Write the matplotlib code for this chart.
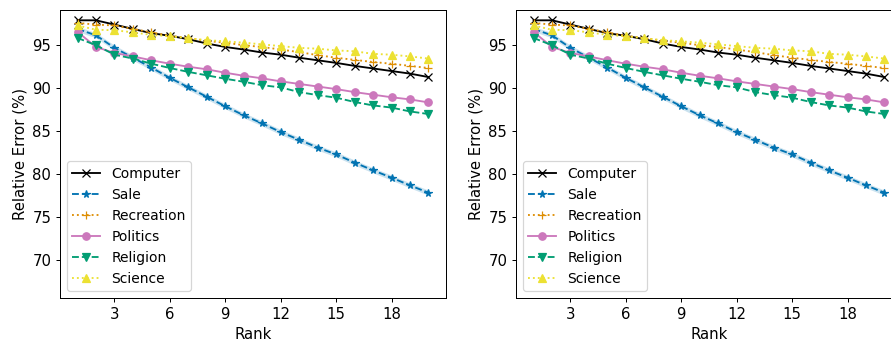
import numpy as np
import matplotlib.pyplot as plt

rank = np.arange(1, 21)

computer = [97.9, 97.9, 97.4, 96.9, 96.4, 96.1, 95.7, 95.2, 94.8, 94.5,
            94.15, 93.9, 93.55, 93.25, 92.95, 92.6, 92.3, 92.0, 91.7, 91.3]
sale = [96.9, 96.15, 94.7, 93.55, 92.4, 91.2, 90.1, 89.0, 87.9, 86.85,
        85.9, 84.9, 84.0, 83.1, 82.3, 81.35, 80.45, 79.6, 78.7, 77.85]
recreation = [97.6, 97.4, 97.3, 96.9, 96.5, 96.1, 95.85, 95.5, 95.3, 95.0,
              94.8, 94.5, 94.2, 93.85, 93.55, 93.3, 93.05, 92.85, 92.6, 92.35]
politics = [96.55, 94.8, 94.1, 93.7, 93.25, 92.85, 92.5, 92.2, 91.8, 91.45,
            91.15, 90.8, 90.5, 90.2, 89.9, 89.55, 89.25, 88.95, 88.7, 88.35]
religion = [95.85, 95.0, 93.9, 93.45, 92.85, 92.35, 91.9, 91.5, 91.1, 90.75,
            90.35, 90.1, 89.55, 89.2, 88.9, 88.4, 88.0, 87.75, 87.3, 87.0]
science = [97.3, 96.8, 96.75, 96.5, 96.2, 96.05, 95.8, 95.6, 95.45, 95.3,
           95.1, 94.9, 94.7, 94.6, 94.4, 94.3, 94.0, 93.9, 93.7, 93.45]

labels = ["Computer", "Sale", "Recreation", "Politics", "Religion", "Science"]
series = [computer, sale, recreation, politics, religion, science]
colors = ["black", "#0173b2", "#de8f05", "#cc78bc", "#029e73", "#ece133"]
markers = ["x", "*", "+", "o", "v", "^"]
styles = ["-", "--", ":", "-", "--", ":"]

fig = plt.figure(figsize=(10, 342 / 89.1), dpi=89.1)
ax1 = fig.add_axes([60 / 891, 44 / 342, 386 / 891, 288 / 342])
ax2 = fig.add_axes([516 / 891, 44 / 342, 386 / 891, 288 / 342])

for ax in [ax1, ax2]:
    for vals, lab, c, m, ls in zip(series, labels, colors, markers, styles):
        ax.plot(rank, vals, color=c, marker=m, linestyle=ls, label=lab)
    # light band around Sale
    s = np.array(sale)
    ax.fill_between(rank, s - 0.3, s + 0.3, color="#0173b2", alpha=0.2, lw=0)
    ax.set_xlim(0.05, 20.95)
    ax.set_ylim(65.6, 99.1)
    ax.set_xticks([3, 6, 9, 12, 15, 18])
    ax.set_yticks([70, 75, 80, 85, 90, 95])
    ax.tick_params(labelsize=12)
    ax.set_xlabel("Rank", fontsize=12)
    ax.set_ylabel("Relative Error (%)", fontsize=12)
    ax.legend(loc="lower left", fontsize=11.2)

plt.savefig("out.png", dpi=89.1)
